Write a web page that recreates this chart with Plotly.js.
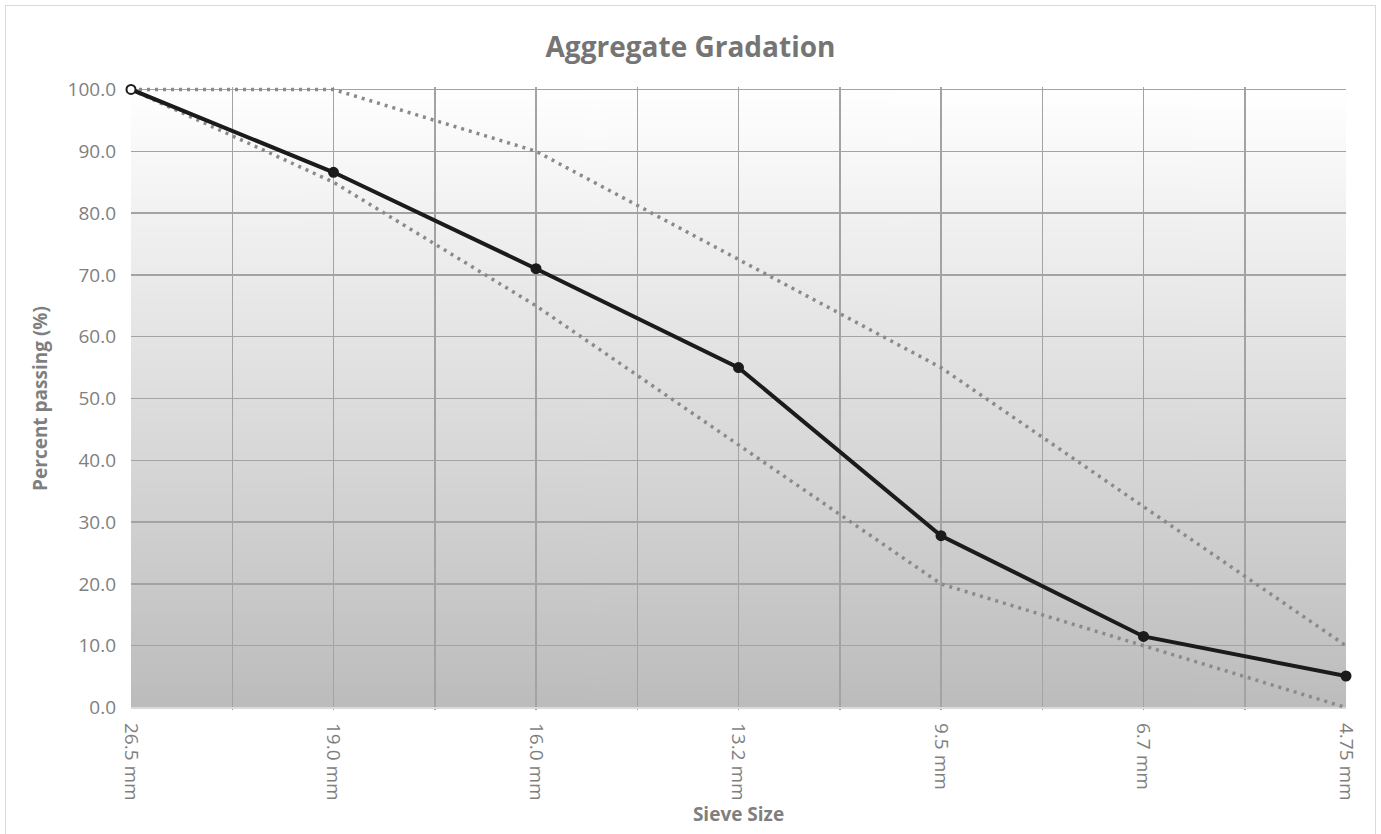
<!DOCTYPE html>
<html>
<head>
<meta charset="utf-8">
<script src="https://cdn.plot.ly/plotly-3.0.1.min.js"></script>
<style>
html,body{margin:0;padding:0;background:#fff;}
#chart{width:1381px;height:834px;}
#frame{position:absolute;left:5px;top:5px;width:1369px;height:840px;border:1.5px solid #d9d9d9;pointer-events:none;}
</style>
</head>
<body>
<div id="chart"></div>
<div id="frame"></div>
<script>
// Data
const sieveSizes = ["26.5 mm", "19.0 mm", "16.0 mm", "13.2 mm", "9.5 mm", "6.7 mm", "4.75 mm"];
const percentPassing = [100, 86.6, 71.0, 55.0, 27.8, 11.5, 5.1];
const upperLimit = [100, 100, 90, 72.5, 55, 32.5, 10];
const lowerLimit = [100, 85, 65, 42.5, 20, 10, 0];
const yTicks = [0, 10, 20, 30, 40, 50, 60, 70, 80, 90, 100];

// positions: each sieve on every second grid line
const xPos = sieveSizes.map((_, i) => i * 2);
const gridVals = [];
const gridText = [];
for (let k = 0; k <= (sieveSizes.length - 1) * 2; k++) {
  gridVals.push(k);
  gridText.push(k % 2 === 0 ? sieveSizes[k / 2] : "");
}
const xMax = gridVals[gridVals.length - 1];
const yMin = yTicks[0], yMax = yTicks[yTicks.length - 1];

// gradient background image
const cv = document.createElement('canvas');
cv.width = 4; cv.height = 256;
const ctx = cv.getContext('2d');
const g = ctx.createLinearGradient(0, 0, 0, 256);
g.addColorStop(0, '#ffffff');
g.addColorStop(1, '#bcbcbc');
ctx.fillStyle = g;
ctx.fillRect(0, 0, 4, 256);
const bgUrl = cv.toDataURL();

const font = "Open Sans, sans-serif";
const dark = '#1c1a1b';
const limitLine = {color: '#8a8a8c', width: 3.5, dash: '3px,5px'};

const traces = [
  {x: xPos, y: upperLimit, mode: 'lines', line: limitLine, hoverinfo: 'y', showlegend: false},
  {x: xPos, y: lowerLimit, mode: 'lines', line: limitLine, hoverinfo: 'y', showlegend: false},
  {x: xPos, y: percentPassing, mode: 'lines+markers', line: {color: dark, width: 4},
   cliponaxis: false,
   marker: {color: xPos.map((_, i) => i === 0 ? '#ffffff' : dark), size: 9, line: {color: dark, width: 2}},
   hoverinfo: 'y', showlegend: false}
];

const pad = 0.4;
const layout = {
  width: 1381, height: 834,
  margin: {l: 131, r: 35, t: 86.5, b: 123.5},
  paper_bgcolor: '#ffffff',
  plot_bgcolor: 'rgba(0,0,0,0)',
  font: {family: font, color: '#7f7f7f', size: 19},
  title: {text: '<b>Aggregate Gradation</b>', font: {family: font, size: 28, color: '#757575'}, x: 0.5, xanchor: 'center', y: 0.943, yanchor: 'middle'},
  images: [{source: bgUrl, xref: 'x', yref: 'y', x: 0, y: yMax, sizex: xMax, sizey: yMax - yMin,
            sizing: 'stretch', xanchor: 'left', yanchor: 'top', layer: 'below'}],
  xaxis: {
    range: [0, xMax],
    tickmode: 'array', tickvals: gridVals, ticktext: gridText,
    tickangle: 90, showgrid: true, gridcolor: '#a3a3a6', gridwidth: 1.5,
    zeroline: false, showline: false,
    ticks: '', ticklabelstandoff: 12,
    tickfont: {size: 19, color: '#7f7f7f'},
    title: {text: '<b>Sieve Size</b>', font: {size: 19, color: '#7f7f7f'}, standoff: 6},
    fixedrange: true
  },
  yaxis: {
    range: [yMin - pad, yMax + pad], tickmode: 'array', tickvals: yTicks,
    ticktext: yTicks.map(v => v.toFixed(1)),
    showgrid: true, gridcolor: '#a3a3a6', gridwidth: 1.5,
    zeroline: true, zerolinecolor: '#d9d9d9', zerolinewidth: 2,
    showline: false, ticks: '', ticklabelstandoff: 14,
    tickfont: {size: 19, color: '#7f7f7f'},
    title: {text: '<b>Percent passing (%)</b>', font: {size: 19, color: '#7f7f7f'}, standoff: 14},
    fixedrange: true
  }
};

Plotly.newPlot('chart', traces, layout, {displayModeBar: false, staticPlot: true});
</script>
</body>
</html>
